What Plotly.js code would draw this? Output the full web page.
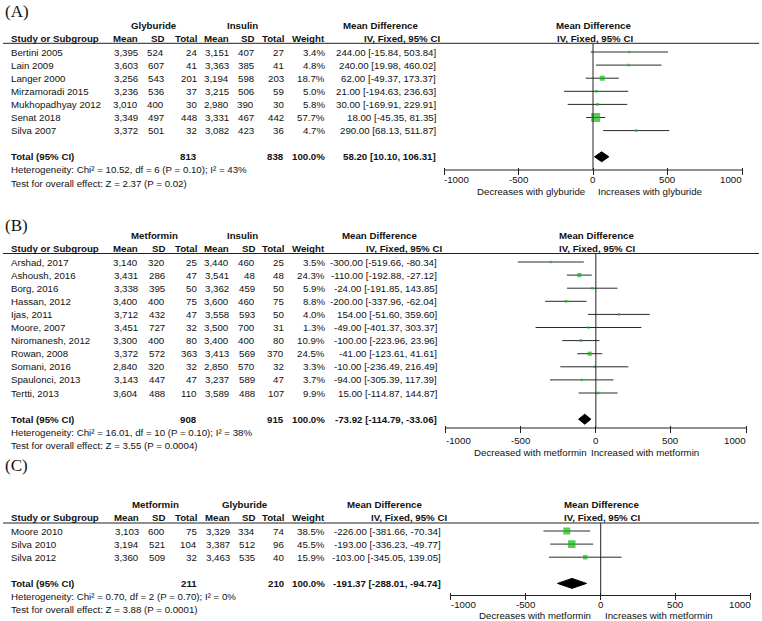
<!DOCTYPE html>
<html><head><meta charset="utf-8">
<script src="https://cdn.plot.ly/plotly-3.0.1.min.js"></script>
<style>html,body{margin:0;padding:0;background:#fff}#chart{width:762px;height:621px}</style>
</head><body><div id="chart"></div>
<script>
// ---------------- DATA ----------------
// Panel A: Glyburide vs Insulin
const studiesA = ["Bertini 2005","Lain 2009","Langer 2000","Mirzamoradi 2015","Mukhopadhyay 2012","Senat 2018","Silva 2007"];
const mean1A = [3395,3603,3256,3236,3010,3349,3372];
const sd1A   = [524,607,543,536,400,497,501];
const n1A    = [24,41,201,37,30,448,32];
const mean2A = [3151,3363,3194,3215,2980,3331,3082];
const sd2A   = [407,385,598,506,390,467,423];
const n2A    = [27,41,203,59,30,442,36];
const weightA= [3.4,4.8,18.7,5.0,5.8,57.7,4.7];
const mdA    = [244.00,240.00,62.00,21.00,30.00,18.00,290.00];
const loA    = [-15.84,19.98,-49.37,-194.63,-169.91,-45.35,68.13];
const hiA    = [503.84,460.02,173.37,236.63,229.91,81.35,511.87];
const totalsA= [813,838];
const pooledA= [58.20,10.10,106.31];
const groupsA= ["Glyburide","Insulin"];
const hetA   = "Heterogeneity: Chi² = 10.52, df = 6 (P = 0.10); I² = 43%";
const testA  = "Test for overall effect: Z = 2.37 (P = 0.02)";
const dirA   = ["Decreases with glyburide","Increases with glyburide"];

// Panel B: Metformin vs Insulin
const studiesB = ["Arshad, 2017","Ashoush, 2016","Borg, 2016","Hassan, 2012","Ijas, 2011","Moore, 2007","Niromanesh, 2012","Rowan, 2008","Somani, 2016","Spaulonci, 2013","Tertti, 2013"];
const mean1B = [3140,3431,3338,3400,3712,3451,3300,3372,2840,3143,3604];
const sd1B   = [320,286,395,400,432,727,400,572,320,447,488];
const n1B    = [25,47,50,75,47,32,80,363,32,47,110];
const mean2B = [3440,3541,3362,3600,3558,3500,3400,3413,2850,3237,3589];
const sd2B   = [460,48,459,460,593,700,400,569,570,589,488];
const n2B    = [25,48,50,75,50,31,80,370,32,47,107];
const weightB= [3.5,24.3,5.9,8.8,4.0,1.3,10.9,24.5,3.3,3.7,9.9];
const mdB    = [-300.00,-110.00,-24.00,-200.00,154.00,-49.00,-100.00,-41.00,-10.00,-94.00,15.00];
const loB    = [-519.66,-192.88,-191.85,-337.96,-51.60,-401.37,-223.96,-123.61,-236.49,-305.39,-114.87];
const hiB    = [-80.34,-27.12,143.85,-62.04,359.60,303.37,23.96,41.61,216.49,117.39,144.87];
const totalsB= [908,915];
const pooledB= [-73.92,-114.79,-33.06];
const groupsB= ["Metformin","Insulin"];
const hetB   = "Heterogeneity: Chi² = 16.01, df = 10 (P = 0.10); I² = 38%";
const testB  = "Test for overall effect: Z = 3.55 (P = 0.0004)";
const dirB   = ["Decreased with metformin","Increased with metformin"];

// Panel C: Metformin vs Glyburide
const studiesC = ["Moore 2010","Silva 2010","Silva 2012"];
const mean1C = [3103,3194,3360];
const sd1C   = [600,521,509];
const n1C    = [75,104,32];
const mean2C = [3329,3387,3463];
const sd2C   = [334,512,535];
const n2C    = [74,96,40];
const weightC= [38.5,45.5,15.9];
const mdC    = [-226.00,-193.00,-103.00];
const loC    = [-381.66,-336.23,-345.05];
const hiC    = [-70.34,-49.77,139.05];
const totalsC= [211,210];
const pooledC= [-191.37,-288.01,-94.74];
const groupsC= ["Metformin","Glyburide"];
const hetC   = "Heterogeneity: Chi² = 0.70, df = 2 (P = 0.70); I² = 0%";
const testC  = "Test for overall effect: Z = 3.88 (P = 0.0001)";
const dirC   = ["Decreases with metformin","Increases with metformin"];

const panelLabels = ["(A)","(B)","(C)"];
const tickVals = [-1000,-500,0,500,1000];
const colHeaders = ["Mean","SD","Total","Mean","SD","Total","Weight"];

// ---------------- LAYOUT CONFIG ----------------
const W = 762, H = 621, ROW = 13.1;
const FONT = 'Liberation Sans, Arial, Helvetica, sans-serif';
const SERIF = 'Liberation Serif, Times New Roman, serif';
const TXT = '#111111';
const FS = 9.7;
const GREEN = '#10bb10';
const LINEC = '#222222';

const cfgs = [
  {labelY:11, band:[0,200], first:52, lineY:43.3, axisY:170, tickY:179, dirY:191,
   x0px:444, x1px:742, cols:[138,164,197,229,254,284,325,436], mdHdrR:418, ivHdrR:440,
   grpX:[154,242], dirGap:[585,598], sq:1.18},
  {labelY:225, band:[200,462], first:262, lineY:253.5, axisY:428, tickY:440, dirY:452,
   x0px:445.7, x1px:746, cols:[138,165,197,229,255,284,325,437], mdHdrR:417, ivHdrR:441.5,
   grpX:[154,242], dirGap:[587,591], sq:0.85},
  {labelY:465, band:[462,621], first:531, lineY:523, axisY:595.5, tickY:604, dirY:615,
   x0px:450.7, x1px:750.7, cols:[139,165,197,230,255,284,325,441], mdHdrR:421.7, ivHdrR:446.5,
   grpX:[155,245], dirGap:[591,605], sq:1.12}
];

const panelData = [
  {studies:studiesA,m1:mean1A,s1:sd1A,n1:n1A,m2:mean2A,s2:sd2A,n2:n2A,w:weightA,md:mdA,lo:loA,hi:hiA,tot:totalsA,pool:pooledA,grp:groupsA,het:hetA,test:testA,dir:dirA},
  {studies:studiesB,m1:mean1B,s1:sd1B,n1:n1B,m2:mean2B,s2:sd2B,n2:n2B,w:weightB,md:mdB,lo:loB,hi:hiB,tot:totalsB,pool:pooledB,grp:groupsB,het:hetB,test:testB,dir:dirB},
  {studies:studiesC,m1:mean1C,s1:sd1C,n1:n1C,m2:mean2C,s2:sd2C,n2:n2C,w:weightC,md:mdC,lo:loC,hi:hiC,tot:totalsC,pool:pooledC,grp:groupsC,het:hetC,test:testC,dir:dirC}
];

function thousands(v){ return String(v).replace(/\B(?=(\d{3})+(?!\d))/g, ','); }
function ciText(m,l,h){ return m.toFixed(2)+' ['+l.toFixed(2)+', '+h.toFixed(2)+']'; }

const traces = [], annotations = [], shapes = [];
const layout = {
  width:W, height:H, margin:{l:0,r:0,t:0,b:0,pad:0},
  paper_bgcolor:'#ffffff', plot_bgcolor:'rgba(0,0,0,0)', showlegend:false,
  font:{family:FONT,size:FS,color:TXT}
};

panelData.forEach((d,i)=>{
  const c = cfgs[i];
  const k = i===0 ? '' : String(i+1);
  const xr = 'x'+k, yr = 'y'+k;
  const toRow = px => (px - c.first)/ROW;
  const n = d.studies.length;

  layout['yaxis'+k] = {domain:[1-c.band[1]/H, 1-c.band[0]/H], range:[toRow(c.band[1]), toRow(c.band[0])],
    visible:false, anchor:xr, fixedrange:true};
  layout['xaxis'+k] = {domain:[c.x0px/W, c.x1px/W], range:[-1000,1000], anchor:'free',
    position:1-(c.axisY-3.5)/H, showgrid:false, zeroline:false, showline:false, showticklabels:false,
    ticks:'outside', ticklen:7, tickwidth:1, tickcolor:LINEC, tickmode:'array', tickvals:tickVals, fixedrange:true};

  const rows = d.studies.map((s,j)=>j);
  const totRow = n+1, hetRow = n+2, testRow = n+3;

  // study estimates with CI whiskers
  traces.push({type:'scatter', mode:'markers', x:d.md, y:rows, xaxis:xr, yaxis:yr, hoverinfo:'skip',
    marker:{symbol:'square', color:GREEN, size:d.w.map(w=>Math.max(2.4, c.sq*Math.sqrt(w))), line:{width:0}},
    error_x:{type:'data', symmetric:false, array:d.hi.map((h,j)=>h-d.md[j]), arrayminus:d.lo.map((l,j)=>d.md[j]-l),
      width:0, thickness:1, color:'#2a2a2a'}});
  // pooled diamond
  const hh = 0.38;
  traces.push({type:'scatter', mode:'lines', x:[d.pool[1],d.pool[0],d.pool[2],d.pool[0],d.pool[1]],
    y:[totRow,totRow-hh,totRow,totRow+hh,totRow], xaxis:xr, yaxis:yr, fill:'toself', fillcolor:'#000',
    line:{color:'#000',width:1}, hoverinfo:'skip'});

  // shapes: header rule, zero line, axis line
  shapes.push({type:'line', xref:'paper', yref:yr, x0:3/W, x1:759/W, y0:toRow(c.lineY), y1:toRow(c.lineY), line:{color:LINEC,width:1}});
  shapes.push({type:'line', xref:xr, yref:yr, x0:0, x1:0, y0:toRow(c.lineY), y1:toRow(c.axisY), line:{color:LINEC,width:1}});
  shapes.push({type:'line', xref:xr, yref:yr, x0:tickVals[0], x1:tickVals[tickVals.length-1], y0:toRow(c.axisY), y1:toRow(c.axisY), line:{color:LINEC,width:1}});

  function ann(text, xpx, row, anchor, opts){
    annotations.push(Object.assign({text:text, x:xpx/W, xref:'paper', y:row, yref:yr, xanchor:anchor, yanchor:'middle',
      showarrow:false, borderpad:0, borderwidth:0, font:{family:FONT,size:FS,color:TXT}}, opts||{}));
  }
  const B = s => '<b>'+s+'</b>';

  // panel label
  ann(panelLabels[i], 5, toRow(c.labelY), 'left', {font:{family:SERIF,size:17,color:'#111'}});
  // group headers
  ann(B(d.grp[0]), c.grpX[0], -2, 'center');
  ann(B(d.grp[1]), c.grpX[1], -2, 'center');
  ann(B('Mean Difference'), c.mdHdrR, -2, 'right');
  ann(B('Study or Subgroup'), 11, -1, 'left');
  colHeaders.forEach((h,j)=> ann(B(h), c.cols[j], -1, 'right'));
  ann(B('IV, Fixed, 95% CI'), c.ivHdrR, -1, 'right');
  // forest headers
  annotations.push({text:B('Mean Difference'), x:0, xref:xr, y:-2, yref:yr, xanchor:'center', yanchor:'middle', xshift:0.5,
    showarrow:false, borderpad:0, borderwidth:0, font:{family:FONT,size:FS,color:TXT}});
  annotations.push({text:B('IV, Fixed, 95% CI'), x:0, xref:xr, y:-1, yref:yr, xanchor:'center', yanchor:'middle', xshift:1.5,
    showarrow:false, borderpad:0, borderwidth:0, font:{family:FONT,size:FS,color:TXT}});

  // study rows
  d.studies.forEach((s,j)=>{
    ann(s, 11, j, 'left');
    ann(thousands(d.m1[j]), c.cols[0], j, 'right');
    ann(String(d.s1[j]), c.cols[1], j, 'right');
    ann(String(d.n1[j]), c.cols[2], j, 'right');
    ann(thousands(d.m2[j]), c.cols[3], j, 'right');
    ann(String(d.s2[j]), c.cols[4], j, 'right');
    ann(String(d.n2[j]), c.cols[5], j, 'right');
    ann(d.w[j].toFixed(1)+'%', c.cols[6], j, 'right');
    ann(ciText(d.md[j], d.lo[j], d.hi[j]), c.cols[7], j, 'right');
  });
  // total row
  const wsum = d.w.reduce((a,b)=>a+b,0);
  ann(B('Total (95% CI)'), 11, totRow, 'left');
  ann(B(String(d.tot[0])), c.cols[2], totRow, 'right');
  ann(B(String(d.tot[1])), c.cols[5], totRow, 'right');
  ann(B((Math.round(wsum/10)*10).toFixed(1)+'%'), c.cols[6], totRow, 'right');
  ann(B(ciText(d.pool[0], d.pool[1], d.pool[2])), c.cols[7], totRow, 'right');
  ann(d.het, 11, hetRow, 'left');
  ann(d.test, 11, testRow, 'left');

  // tick labels (ends kept inside the axis like RevMan)
  tickVals.forEach((v,j)=>{
    const anc = j===0 ? 'left' : (j===tickVals.length-1 ? 'right' : 'center');
    annotations.push({text:String(v), x:v, xref:xr, y:toRow(c.tickY), yref:yr, xanchor:anc, yanchor:'middle',
      showarrow:false, borderpad:0, borderwidth:0, font:{family:FONT,size:FS,color:TXT}});
  });
  // direction labels
  ann(d.dir[0], c.dirGap[0], toRow(c.dirY), 'right');
  ann(d.dir[1], c.dirGap[1], toRow(c.dirY), 'left');
});

layout.annotations = annotations;
layout.shapes = shapes;

Plotly.newPlot('chart', traces, layout, {staticPlot:true, displayModeBar:false});
</script>
</body></html>
